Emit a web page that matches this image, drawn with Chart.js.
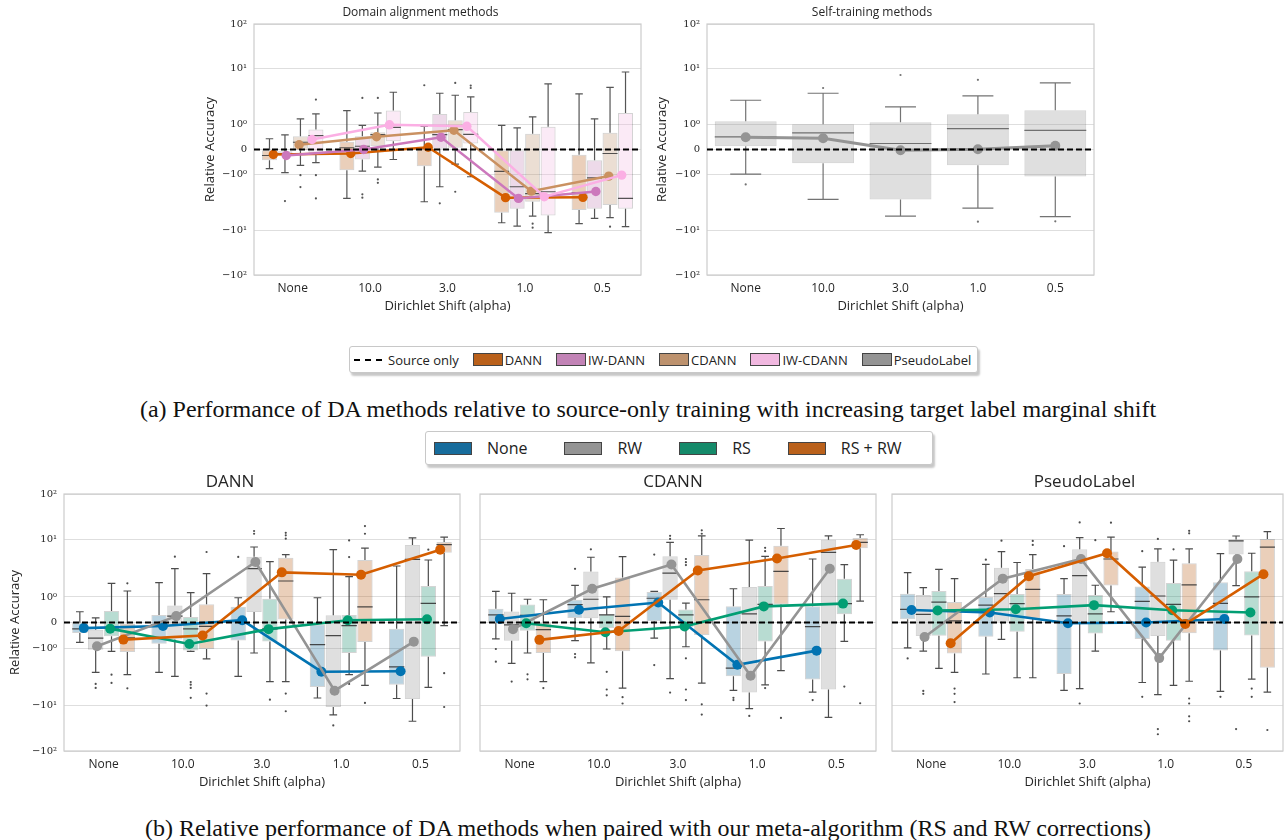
<!DOCTYPE html>
<html>
<head>
<meta charset="utf-8">
<script src="https://cdn.jsdelivr.net/npm/chart.js@4.4.1/dist/chart.umd.min.js"></script>
<style>
  body { margin: 0; background: #fff; width: 1288px; height: 840px; position: relative; overflow: hidden; font-family: 'Open Sans', 'DejaVu Sans', sans-serif; color: #222; }
  canvas { position: absolute; }
  .legend { position: absolute; display: flex; align-items: center; background: #fff; border: 1px solid #c8c8c8; border-radius: 3px; box-shadow: 2px 3px 2px rgba(0,0,0,0.22); box-sizing: border-box; white-space: nowrap; }
  .legend .patch { display: inline-block; box-sizing: border-box; border: 1px solid #444; }
  .legend .dash { display: inline-block; width: 28px; border-top: 2px dashed #000; }
  .caption { position: absolute; left: 0; width: 1296px; text-align: center; font-family: 'Liberation Serif', serif; font-size: 24px; line-height: 28px; color: #111; }
</style>
</head>
<body>
<canvas id="topLeft" width="450" height="322" style="left:200px;top:0px"></canvas>
<canvas id="topRight" width="460" height="322" style="left:650px;top:0px"></canvas>
<div class="legend" id="legTop" style="left:349px;top:346px;width:629px;height:27px;font-size:13px;padding-left:4px"></div>
<div class="caption" style="top:395px">(a) Performance of DA methods relative to source-only training with increasing target label marginal shift</div>
<div class="legend" id="legBottom" style="left:425px;top:431px;width:508px;height:34px;font-size:16px;padding-left:8px"></div>
<canvas id="dann" width="470" height="337" style="left:0px;top:462px"></canvas>
<canvas id="cdann" width="416" height="337" style="left:470px;top:462px"></canvas>
<canvas id="pseudo" width="406" height="337" style="left:882px;top:462px"></canvas>
<div class="caption" style="top:814px">(b) Relative performance of DA methods when paired with our meta-algorithm (RS and RW corrections)</div>

<script>
const categories = ['None', '10.0', '3.0', '1.0', '0.5'];
const yTickLabels = ['\u221210\u00b2', '\u221210\u00b9', '\u221210\u2070', '0', '10\u2070', '10\u00b9', '10\u00b2'];

// box stats per category: [low whisker, q1, median, q3, high whisker]
// (a) domain alignment methods
const topDannBox = [[-0.77, -0.43, -0.24, -0.03, 0.43], [-2.68, -0.83, 0.07, 0.31, 1.78], [-3.08, -0.67, 0.03, 0.07, 0.93], [-7.3, -4.83, -0.88, -0.03, 0.97], [-7.6, -4.33, -2.13, -0.21, 3.53]];
const topDannOut = [[], [], [5.04], [], []];
const topDannMean = [-0.2, -0.16, 0.09, -2.6, -2.57];

const topIwDannBox = [[-0.93, -0.2, -0.16, -0.07, 0.59], [-0.87, -0.4, 0.13, 0.53, 0.97], [-1.66, 0.03, 0.6, 1.55, 3.63], [-8.4, -4.1, -1.66, -0.03, 0.87], [-6.1, -4.1, -1.15, -0.43, 1.26]];
const topIwDannOut = [[-2.99], [2.99, -2.27, -2.6], [-3.29], [], []];
const topIwDannMean = [-0.24, 0, 0.49, -2.68, -2.02];

const topCdannBox = [[-0.64, -0.03, 0.29, 0.53, 1.26], [-0.71, 0.13, 0.6, 0.69, 1.61], [-0.59, 0.07, 0.8, 1.2, 3.34], [-5.55, -3.08, -2.21, 0.63, 1.37], [-5.9, -3.53, -0.16, 0.67, 4.64]];
const topCdannOut = [[-1.03, -1.68], [2.99, -1.23, -1.41], [5.55, -2.04], [-7.6, -8.96], [-8.6]];
const topCdannMean = [0.19, 0.51, 0.77, -1.99, -1.07];

const topIwCdannBox = [[-0.53, -0.13, 0.56, 0.8, 1.55], [-0.4, 0.33, 0.89, 1.78, 3.78], [-1.1, 0.24, 0.61, 1.68, 3.12], [-11, -5.4, -2.04, 0.91, 5.32], [-8.6, -4.1, -2.68, 1.61, 8.7]];
const topIwCdannOut = [[2.8, -1.03, -2.68], [], [4.97, 4.5], [], []];
const topIwCdannMean = [0.4, 0.99, 0.93, -2.5, -1.03];

// (a) self-training
const topPlBox = [[-0.99, 0.13, 0.51, 1.15, 2.72], [-2.8, -0.55, 0.67, 1.01, 3.63], [-5.55, -2.8, 0.24, 1.1, 2.07], [-3.99, -0.63, 0.84, 1.53, 3.25], [-5.7, -1.09, 0.77, 1.8, 5.55]];
const topPlOut = [[-1.51], [4.5], [7.7], [6.3, -7.0], [-6.9]];
const topPlMean = [0.49, 0.45, -0.03, 0.01, 0.15];

// (b) DANN
const dannNoneBox = [[-0.78, -0.41, -0.25, -0.01, 0.42], [-2.66, -0.83, -0.08, 0.29, 1.78], [-3.12, -0.7, 0.05, 0.62, 0.97], [-7.45, -4.79, -0.87, -0.08, 0.97], [-7.6, -4.36, -2.14, -0.24, 3.47]];
const dannNoneOut = [[], [], [5.0], [], []];
const dannNoneMean = [-0.22, -0.14, 0.09, -2.59, -2.55];
const dannRwBox = [[-2.66, -1.07, -0.61, -0.28, 0.18], [-3.12, -0.67, 0.25, 0.67, 3.12], [-1.22, 0.41, 3.12, 5.05, 7.45], [-14.7, -10.7, -0.51, 0.28, 6.7], [-19, -7.76, 4.53, 8.06, 10.8]];
const dannRwOut = [[-4.24, -4.98], [5.05], [14.2, 12.7], [-22.5], []];
const dannRwMean = [-0.93, 0.25, 4.08, -5.55, -0.75];
const dannRsBox = [[-1.14, -0.54, -0.21, 0.45, 1.73], [-1.14, -1.1, -0.25, 0.22, 1.19], [-3.87, -0.74, -0.25, 0.93, 4.13], [-2.92, -1.22, -0.12, 0.29, 2.26], [-4.85, -1.42, 0.75, 1.55, 4.42]];
const dannRsOut = [[-2.92, -4.07], [-3.92, -4.36, -4.98, -7.4], [-7.96], [9.7, 4.98, -4.24], [6.7]];
const dannRsMean = [-0.24, -0.84, -0.26, 0.09, 0.13];
const dannRsRwBox = [[-2.92, -1.17, -0.6, -0.04, 1.27], [-1.55, -1.04, -0.15, 0.71, 2.55], [-3.87, 0.12, 1.9, 4.85, 5.47], [-4.48, -0.76, 0.61, 4.42, 7.1], [-0.12, 5.93, 8.2, 9.1, 11.1]];
const dannRsRwOut = [[1.73, -5.05], [6.1, -6.24, -10.1], [13.2, 11.9, 10.4, -6.24, -12.7], [17.3, 12.7, -9.1], [-2.75, -10.7]];
const dannRsRwMean = [-0.67, -0.51, 2.69, 2.45, 6.7];

// (b) CDANN
const cdannNoneBox = [[-0.64, -0.01, 0.3, 0.54, 1.25], [-0.71, 0.18, 0.7, 0.89, 1.59], [-0.61, 0.05, 0.95, 1.22, 1.25], [-5.5, -3.12, -2.25, 0.64, 1.39], [-5.9, -3.54, -0.16, 0.64, 4.6]];
const cdannNoneOut = [[-1.04, -1.73], [3.1, -1.27, -1.45], [5.5, -1.98], [-7.4, -8.1], [-8.1]];
const cdannNoneMean = [0.14, 0.5, 0.78, -1.96, -1.11];
const cdannRwBox = [[-1.85, -0.71, -0.09, 0.43, 1.16], [-1.82, 0.17, 0.91, 2.79, 4.94], [-3.43, 0.89, 2.6, 5.13, 8.98], [-11.4, -6.0, 0.34, 1.49, 9.8], [-16.3, -5.3, 6.0, 10.0, 11.7]];
const cdannRwOut = [[-3.85], [6.8], [11.7, 10.3, -6.0], [-15.3], []];
const cdannRwMean = [-0.26, 1.39, 3.68, -3.05, 3.1];
const cdannRsBox = [[-1.22, -0.32, 0.28, 0.7, 0.91], [-1.04, -0.22, 0.3, 0.32, 1.0], [-0.95, -0.18, 0.3, 0.51, 0.76], [-4.4, -0.74, 0.71, 1.55, 5.13], [-0.74, 0.32, 0.74, 2.08, 3.68]];
const cdannRsOut = [[-2.88, -3.52], [-2.6, -5.3, -6.7], [4.6, 4.05, 3.6, -1.51, -5.3, -8.1], [7.2, 6.3, -5.0], [-4.7]];
const cdannRsMean = [-0.03, -0.38, -0.16, 0.63, 0.74];
const cdannRsRwBox = [[-3.85, -1.22, -0.28, -0.01, 0.89], [-5.0, -1.14, 0.24, 2.19, 5.07], [-4.1, -0.49, 0.89, 5.4, 11.7], [-2.47, 0.7, 2.8, 7.87, 15.7], [0.84, 7.1, 8.98, 10.7, 12.2]];
const cdannRsRwOut = [[-5.0], [-7.2, -9.3], [14.6, 12.7, -9.6, -14.5], [-16.6], [-9.2]];
const cdannRsRwMean = [-0.68, -0.33, 2.9, 4.7, 8.1];

// (b) PseudoLabel
const plNoneBox = [[-0.99, 0.13, 0.51, 1.14, 2.66], [-2.84, -0.56, 0.68, 1.0, 3.7], [-5.5, -2.84, 0.26, 1.13, 2.09], [-4.0, -0.65, 0.83, 1.53, 3.33], [-5.7, -1.1, 0.75, 1.8, 5.7]];
const plNoneOut = [[-1.52], [4.47], [7.7], [6.3, -7.1], [-7.1]];
const plNoneMean = [0.49, 0.39, -0.03, 0, 0.14];
const plRwBox = [[-1.13, -0.53, 0.32, 1.08, 1.45], [-0.66, 0.03, 1.14, 3.25, 6.2], [-5.1, 0.03, 2.36, 6.8, 10.9], [-6.5, -0.53, 1.04, 4.1, 6.9], [1.58, 5.5, 9.5, 10.1, 11.6]];
const plRwOut = [[-5.6, -6.3], [9.6], [20, -9.3], [10.3, -26, -32], [-26]];
const plRwMean = [-0.57, 2.09, 4.6, -1.5, 4.6];
const plRsBox = [[-2.26, -0.52, 0.8, 1.27, 3.03], [-3.3, -0.36, 0.74, 1.13, 4.0], [-1.13, -0.43, 0.34, 1.08, 1.6], [-4.5, -0.71, 0.71, 1.75, 4.4], [-3.5, -0.51, 1.0, 2.8, 5.8]];
const plRsOut = [[], [], [9.8], [6.8], [-5.1, -7.1]];
const plRsMean = [0.47, 0.52, 0.68, 0.48, 0.39];
const plRsRwBox = [[-2.66, -1.24, 0.06, 0.8, 2.09], [-3.3, 0.16, 1.36, 3.08, 5.5], [0.42, 1.58, 4.6, 6.2, 11.1], [-3.8, -0.42, 1.62, 3.86, 6.9], [-5.9, -2.2, 7.4, 10.3, 13.8]];
const plRsRwOut = [[-5.1, -6.3, -8.8], [9.5, 8.1], [19.8], [14.3, 12.9, -7.6, -9.3, -15.6, -19], [-27]];
const plRsRwMean = [-0.81, 2.3, 5.8, -0.06, 2.5];

// colorblind palette, and the 0.75-saturation version used for boxes / legend patches
const lineColor = { blue: '#0173b2', gray: '#949494', green: '#029e73', orange: '#d55e00', mauve: '#cc78bc', tan: '#ca9161', pink: '#fbafe4' };
const boxColor = { blue: '#176c9c', gray: '#949494', green: '#158a6a', orange: '#ba611b', mauve: '#c283b6', tan: '#bd926e', pink: '#f1b8e0' };

const SANS = "'Open Sans', 'DejaVu Sans', sans-serif";
const SERIF = "'DejaVu Serif', serif";

// symlog axis: linear between -1 and 1, then one unit per decade
const LIN = 0.446;
const YMAX = 2.244;
function symlog(v) {
  const a = Math.abs(v);
  return a <= 1 ? v * LIN : Math.sign(v) * (LIN + Math.log10(a));
}
const yTickPos = [-YMAX, symlog(-10), symlog(-1), 0, symlog(1), symlog(10), YMAX];

function rgba(hex, a) {
  const n = parseInt(hex.slice(1), 16);
  return `rgba(${n >> 16}, ${(n >> 8) & 255}, ${n & 255}, ${a})`;
}

// whiskers, caps, medians and fliers on top of each floating bar
const boxPlugin = {
  id: 'boxes',
  afterDatasetDraw(chart, args) {
    const ds = chart.data.datasets[args.index];
    if (!ds.stats) return;
    const ctx = chart.ctx;
    const y = chart.scales.y;
    const py = v => y.getPixelForValue(symlog(v));
    ctx.save();
    ctx.strokeStyle = ds.whisker;
    ctx.fillStyle = ds.whisker;
    ctx.lineWidth = 1.2;
    args.meta.data.forEach((bar, i) => {
      const [lo, q1, med, q3, hi] = ds.stats[i];
      const x = bar.x, w = bar.width;
      ctx.beginPath();
      ctx.moveTo(x, py(q3)); ctx.lineTo(x, py(hi));
      ctx.moveTo(x, py(q1)); ctx.lineTo(x, py(lo));
      ctx.moveTo(x - w / 4, py(hi)); ctx.lineTo(x + w / 4, py(hi));
      ctx.moveTo(x - w / 4, py(lo)); ctx.lineTo(x + w / 4, py(lo));
      ctx.moveTo(x - w / 2, py(med)); ctx.lineTo(x + w / 2, py(med));
      ctx.stroke();
      ds.fliers[i].forEach(f => {
        ctx.beginPath();
        ctx.arc(x, py(f), 1.1, 0, Math.PI * 2);
        ctx.fill();
      });
    });
    ctx.restore();
  }
};

const framePlugin = {
  id: 'frame',
  beforeDatasetsDraw(chart) {
    const { ctx, chartArea: a } = chart;
    ctx.save();
    ctx.strokeStyle = '#cccccc';
    ctx.lineWidth = 1.2;
    ctx.strokeRect(a.left, a.top, a.right - a.left, a.bottom - a.top);
    ctx.restore();
  }
};

function makeChart(id, series, o) {
  const n = series.length;
  const boxShift = series.map((s, k) => n === 1 ? 0 : -0.3 + k * 0.6 / (n - 1));
  const meanShift = series.map((s, k) => n === 1 ? 0 : -0.25 + k * 0.5 / (n - 1));
  const datasets = [];
  series.forEach((s, k) => {
    datasets.push({
      type: 'bar', label: s.label, order: 3, grouped: false,
      data: s.box.map((b, i) => ({ x: i + boxShift[k], y: [symlog(b[1]), symlog(b[3])] })),
      stats: s.box, fliers: s.out, whisker: o.whisker,
      backgroundColor: rgba(boxColor[s.key], 0.3),
      borderColor: rgba('#3c3c3c', 0.22),
      borderWidth: 1, borderSkipped: false,
      categoryPercentage: 1, barPercentage: n === 1 ? 0.8 : 0.97
    });
  });
  // later hues are drawn over earlier ones, the dashed baseline over everything
  series.forEach((s, k) => {
    datasets.push({
      type: 'line', label: s.label + ' mean', order: 1 + (n - 1 - k) * 0.1,
      data: s.mean.map((m, i) => ({ x: i + meanShift[k], y: symlog(m) })),
      borderColor: lineColor[s.key], backgroundColor: lineColor[s.key],
      borderWidth: o.lw, pointRadius: o.pr, pointBorderWidth: 0, tension: 0
    });
  });
  datasets.push({
    type: 'line', label: 'Source only', order: 0.5,
    data: [{ x: -0.5, y: 0 }, { x: 4.5, y: 0 }],
    borderColor: '#000', borderWidth: 1.8, borderDash: [6, 3], pointRadius: 0
  });

  return new Chart(document.getElementById(id), {
    type: 'bar',
    data: { datasets },
    plugins: [framePlugin, boxPlugin],
    options: {
      responsive: false,
      animation: false,
      events: [],
      layout: { padding: { left: 0, top: 0, right: o.padRight, bottom: o.padBottom } },
      plugins: {
        legend: { display: false },
        tooltip: { enabled: false },
        title: {
          display: true, text: o.title, color: '#262626',
          font: { family: SANS, size: o.titleSize, weight: 'normal' },
          padding: { top: o.titlePad[0], bottom: o.titlePad[1] }
        }
      },
      scales: {
        x: {
          type: 'linear', min: -0.5, max: 4.5, offset: false,
          afterBuildTicks: s => { s.ticks = categories.map((c, i) => ({ value: i })); },
          grid: { display: false, drawTicks: false, offset: false },
          border: { display: false },
          ticks: { color: '#262626', font: { family: SANS, size: 12 }, padding: 6, maxRotation: 0, autoSkip: false, callback: (v, i) => categories[i] },
          title: { display: true, text: 'Dirichlet Shift (alpha)', color: '#262626', font: { family: SANS, size: 13 }, padding: { top: 0, bottom: 1 } },
          afterFit: s => { s.height = 40; }
        },
        y: {
          type: 'linear', min: -YMAX, max: YMAX,
          afterBuildTicks: s => { s.ticks = yTickPos.map(v => ({ value: v })); },
          grid: { color: '#dedede', lineWidth: 1, drawTicks: false },
          border: { display: false },
          ticks: {
            display: o.yTicks, color: '#262626', padding: 7,
            font: { family: SERIF, size: 10 },
            callback: (v, i) => yTickLabels[i]
          },
          title: {
            display: o.yTicks, text: 'Relative Accuracy', color: '#262626',
            font: { family: SANS, size: 13 }, padding: { top: o.yTitlePad, bottom: 0 }
          },
          afterFit: s => { s.width = o.yWidth; }
        }
      }
    }
  });
}

const topLeftSeries = [
  { label: 'DANN', key: 'orange', box: topDannBox, out: topDannOut, mean: topDannMean },
  { label: 'IW-DANN', key: 'mauve', box: topIwDannBox, out: topIwDannOut, mean: topIwDannMean },
  { label: 'CDANN', key: 'tan', box: topCdannBox, out: topCdannOut, mean: topCdannMean },
  { label: 'IW-CDANN', key: 'pink', box: topIwCdannBox, out: topIwCdannOut, mean: topIwCdannMean }
];
const topRightSeries = [
  { label: 'PseudoLabel', key: 'gray', box: topPlBox, out: topPlOut, mean: topPlMean }
];
const dannSeries = [
  { label: 'None', key: 'blue', box: dannNoneBox, out: dannNoneOut, mean: dannNoneMean },
  { label: 'RW', key: 'gray', box: dannRwBox, out: dannRwOut, mean: dannRwMean },
  { label: 'RS', key: 'green', box: dannRsBox, out: dannRsOut, mean: dannRsMean },
  { label: 'RS + RW', key: 'orange', box: dannRsRwBox, out: dannRsRwOut, mean: dannRsRwMean }
];
const cdannSeries = [
  { label: 'None', key: 'blue', box: cdannNoneBox, out: cdannNoneOut, mean: cdannNoneMean },
  { label: 'RW', key: 'gray', box: cdannRwBox, out: cdannRwOut, mean: cdannRwMean },
  { label: 'RS', key: 'green', box: cdannRsBox, out: cdannRsOut, mean: cdannRsMean },
  { label: 'RS + RW', key: 'orange', box: cdannRsRwBox, out: cdannRsRwOut, mean: cdannRsRwMean }
];
const plSeries = [
  { label: 'None', key: 'blue', box: plNoneBox, out: plNoneOut, mean: plNoneMean },
  { label: 'RW', key: 'gray', box: plRwBox, out: plRwOut, mean: plRwMean },
  { label: 'RS', key: 'green', box: plRsBox, out: plRsOut, mean: plRsMean },
  { label: 'RS + RW', key: 'orange', box: plRsRwBox, out: plRsRwOut, mean: plRsRwMean }
];

const topOpts = { titleSize: 12, titlePad: [5.4, 4.2], padBottom: 7, yTicks: true, lw: 2.5, pr: 4.7, whisker: 'rgba(55,55,55,0.85)' };
makeChart('topLeft', topLeftSeries, { ...topOpts, title: 'Domain alignment methods', yWidth: 54, yTitlePad: 2.2, padRight: 9 });
makeChart('topRight', topRightSeries, { ...topOpts, title: 'Self-training methods', yWidth: 57, yTitlePad: 4, padRight: 16, lw: 3, pr: 5, whisker: 'rgba(100,100,100,0.9)' });

const botOpts = { titleSize: 17, titlePad: [9.8, 1.8], padBottom: 8, lw: 2.6, pr: 5, whisker: 'rgba(45,45,45,0.85)' };
makeChart('dann', dannSeries, { ...botOpts, title: 'DANN', yTicks: true, yWidth: 64, yTitlePad: 7.2, padRight: 10 });
makeChart('cdann', cdannSeries, { ...botOpts, title: 'CDANN', yTicks: false, yWidth: 10, yTitlePad: 0, padRight: 10 });
makeChart('pseudo', plSeries, { ...botOpts, title: 'PseudoLabel', yTicks: false, yWidth: 10, yTitlePad: 0, padRight: 1 });

// legends
function fillLegend(id, items, o) {
  const el = document.getElementById(id);
  items.forEach((it, k) => {
    const wrap = document.createElement('span');
    wrap.style.display = 'inline-flex';
    wrap.style.alignItems = 'center';
    wrap.style.marginRight = k < items.length - 1 ? o.itemGap + 'px' : '0';
    const mark = document.createElement('span');
    if (it.dash) {
      mark.className = 'dash';
      mark.style.marginRight = '6px';
    } else {
      mark.className = 'patch';
      mark.style.width = o.pw + 'px';
      mark.style.height = o.ph + 'px';
      mark.style.background = it.color;
      mark.style.marginRight = o.textGap + 'px';
    }
    const txt = document.createElement('span');
    txt.textContent = it.label;
    wrap.appendChild(mark);
    wrap.appendChild(txt);
    el.appendChild(wrap);
  });
}
fillLegend('legTop', [{ label: 'Source only', dash: true }].concat(
  topLeftSeries.concat(topRightSeries).map(s => ({ label: s.label, color: boxColor[s.key] }))),
  { pw: 30, ph: 13, textGap: 2, itemGap: 14 });
fillLegend('legBottom', dannSeries.map(s => ({ label: s.label, color: boxColor[s.key] })),
  { pw: 38, ph: 13, textGap: 15, itemGap: 37 });
</script>
</body>
</html>
